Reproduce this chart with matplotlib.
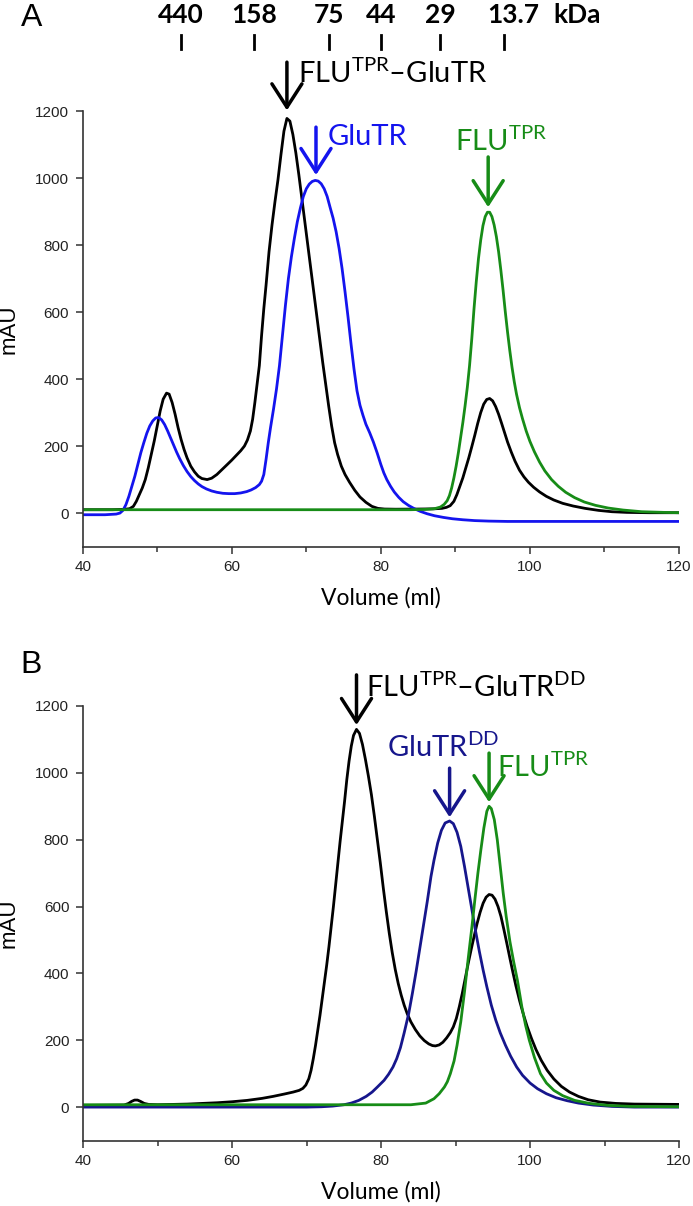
import matplotlib
matplotlib.use('Agg')
import matplotlib.pyplot as plt
from matplotlib.ticker import MultipleLocator

plt.rcParams['mathtext.fontset'] = 'custom'
plt.rcParams['mathtext.rm'] = 'Lato'
plt.rcParams['mathtext.it'] = 'Lato'
plt.rcParams['mathtext.bf'] = 'Lato:bold'

# ---- panel A: FLU-TPR/GluTR complex (black), GluTR (blue), FLU-TPR (green) ----
a_black_x = [40, 44, 45.5, 46.3, 46.8, 47.2, 47.6, 48.0, 48.4, 48.8, 49.2, 49.6, 50.0, 50.4, 50.8,
             51.25, 51.6, 52.0, 52.4, 52.8, 53.2, 53.6, 54.0, 54.5, 55.0, 55.5, 56.0, 56.7, 57.3,
             58.0, 58.7, 59.4, 60.0, 60.6, 61.2, 61.7, 62.1, 62.5, 62.8, 63.1, 63.4, 63.7, 64.0,
             64.3, 64.6, 65.0, 65.4, 65.8, 66.2, 66.6, 67.0, 67.4, 67.8, 68.2, 68.6, 69.0, 69.4,
             69.8, 70.2, 70.6, 71.0, 71.4, 71.8, 72.2, 72.6, 73.0, 73.4, 73.8, 74.2, 74.7, 75.2,
             75.8, 76.5, 77.2, 78.0, 78.8, 79.6, 80.5, 82, 85, 87, 88.2, 88.8, 89.3, 89.8, 90.2,
             90.6, 91.0, 91.4, 91.8, 92.2, 92.6, 93.0, 93.4, 93.8, 94.2, 94.6, 95.0, 95.4, 95.8,
             96.2, 96.6, 97.0, 97.5, 98.0, 98.6, 99.2, 99.8, 100.5, 101.3, 102.2, 103.2, 104.4,
             105.8, 107.4, 109.2, 111, 113, 116, 120]
a_black_y = [10, 10, 11, 13, 20, 35, 55, 75, 100, 135, 175, 215, 260, 305, 340,
             358, 355, 330, 295, 255, 220, 190, 165, 140, 123, 110, 103, 100, 104,
             115, 130, 145, 158, 172, 186, 200, 218, 245, 280, 330, 385, 440, 530,
             610, 680, 780, 860, 930, 995, 1070, 1140, 1178, 1170, 1130, 1075, 1010, 940,
             870, 800, 730, 660, 590, 520, 450, 385, 320, 260, 210, 175, 140, 115,
             92, 68, 48, 32, 20, 14, 12, 11.5, 12, 12.5, 14, 17, 22, 35, 55,
             80, 105, 135, 165, 198, 232, 268, 300, 325, 339, 342, 335, 318, 295,
             268, 240, 212, 182, 155, 128, 108, 92, 77, 63, 50, 39, 29,
             21, 14, 8, 4, 2, 1, 1]

a_blue_x = [40, 43, 44.5, 45.0, 45.4, 45.8, 46.2, 46.6, 47.0, 47.4, 47.8, 48.2, 48.6, 49.0, 49.4,
            49.8, 50.2, 50.6, 51.0, 51.4, 51.8, 52.2, 52.6, 53.0, 53.5, 54.0, 54.5, 55.0, 55.5,
            56.0, 56.6, 57.3, 58.0, 58.8, 59.6, 60.4, 61.2, 62.0, 62.6, 63.2, 63.7, 64.0, 64.3,
            64.6, 64.9, 65.2, 65.6, 66.0, 66.4, 66.8, 67.2, 67.6, 68.0, 68.4, 68.8, 69.2, 69.6,
            70.0, 70.4, 70.8, 71.2, 71.6, 72.0, 72.4, 72.8, 73.2, 73.6, 74.0, 74.4, 74.8, 75.2,
            75.6, 76.0, 76.4, 76.8, 77.2, 77.6, 78.0, 78.5, 79.0, 79.5, 80.0, 80.4, 80.8, 81.3,
            81.8, 82.4, 83.0, 83.7, 84.5, 85.3, 86.2, 87.2, 88.4, 89.6, 91.0, 92.6, 94.5, 97, 120]
a_blue_y = [-5, -5, -3, 0, 8, 25, 50, 80, 110, 145, 180, 210, 238, 260, 275,
            284, 285, 278, 264, 245, 224, 203, 182, 163, 142, 124, 109, 97, 87,
            79, 72, 66, 62, 59, 58, 58, 60, 64, 69, 76, 85, 95, 115,
            160, 210, 255, 310, 370, 440, 530, 620, 700, 765, 820, 870, 910, 945,
            968, 982, 990, 993, 991, 983, 968, 945, 912, 880, 840, 790, 730, 660,
            585, 505, 430, 365, 322, 292, 265, 240, 212, 180, 145, 120, 100, 80,
            63, 47, 34, 23, 13, 5, -2, -8, -13, -17, -20, -22.5, -24, -25, -25]

a_green_x = [40, 84, 86, 87.2, 88.0, 88.5, 88.9, 89.2, 89.5, 89.8, 90.1, 90.4, 90.7, 91.0, 91.3,
             91.6, 91.9, 92.2, 92.5, 92.8, 93.1, 93.4, 93.7, 94.0, 94.3, 94.6, 94.9, 95.2, 95.5,
             95.8, 96.1, 96.4, 96.7, 97.0, 97.3, 97.6, 97.9, 98.2, 98.6, 99.0, 99.5, 100.0, 100.6,
             101.3, 102.0, 102.9, 103.8, 104.8, 106.0, 107.3, 108.8, 110.5, 112.5, 115, 118, 120]
a_green_y = [10, 10, 11, 13, 18, 26, 37, 52, 75, 105, 140, 180, 225, 270, 320,
             375, 440, 520, 610, 690, 760, 815, 858, 885, 898, 898, 885, 860, 825,
             780, 725, 665, 600, 540, 485, 435, 392, 355, 315, 282, 245, 214, 183,
             152, 126, 100, 80, 62, 46, 33, 23, 15, 9, 4, 2, 1]

# ---- panel B: FLU-TPR/GluTR-DD complex (black), GluTR-DD (navy), FLU-TPR (green) ----
b_black_x = [40, 45.5, 46.1, 46.5, 46.9, 47.3, 47.7, 48.2, 48.8, 50, 52, 54, 56, 58, 60, 62, 64,
             65.5, 67, 68.2, 69.0, 69.5, 69.9, 70.3, 70.6, 70.9, 71.2, 71.5, 71.8, 72.1, 72.4,
             72.7, 73.0, 73.3, 73.6, 73.9, 74.2, 74.5, 74.8, 75.1, 75.4, 75.7, 76.0, 76.3, 76.7,
             77.1, 77.5, 77.9, 78.3, 78.7, 79.1, 79.5, 79.9, 80.3, 80.7, 81.1, 81.5, 81.9, 82.3,
             82.7, 83.1, 83.5, 84.0, 84.6, 85.2, 85.8, 86.4, 86.9, 87.3, 87.8, 88.3, 88.8, 89.3,
             89.7, 90.1, 90.5, 90.9, 91.3, 91.7, 92.1, 92.5, 92.9, 93.3, 93.7, 94.1, 94.5, 94.9,
             95.3, 95.7, 96.1, 96.5, 96.9, 97.3, 97.7, 98.1, 98.6, 99.1, 99.6, 100.2, 100.8,
             101.5, 102.3, 103.2, 104.2, 105.3, 106.5, 107.8, 109.4, 111.5, 114, 120]
b_black_y = [5, 6, 11, 17, 21, 21, 17, 11, 8, 7, 8, 9, 11, 13, 16, 20, 26,
             32, 39, 45, 50, 56, 66, 85, 110, 145, 185, 230, 275, 325, 375,
             425, 480, 540, 600, 665, 730, 795, 855, 915, 980, 1035, 1080, 1112, 1130,
             1118, 1085, 1040, 990, 935, 870, 800, 730, 655, 585, 520, 462, 412, 370,
             335, 305, 280, 255, 232, 213, 199, 189, 184, 183, 186, 194, 207, 223,
             240, 265, 300, 340, 385, 430, 472, 512, 550, 583, 610, 628, 636, 634,
             622, 600, 570, 530, 488, 445, 403, 363, 318, 278, 242, 205, 172,
             140, 110, 84, 62, 45, 32, 22, 15, 11, 9, 8]

b_navy_x = [40, 70, 72, 73.5, 75, 76, 77, 78, 78.8, 79.5, 80.4, 81.0, 81.6, 82.1, 82.6, 83.1, 83.7,
            84.2, 84.7, 85.2, 85.7, 86.2, 86.7, 87.1, 87.6, 88.1, 88.6, 89.2, 89.7, 90.2, 90.7,
            91.2, 91.7, 92.2, 92.7, 93.2, 93.7, 94.2, 94.8, 95.4, 96.0, 96.7, 97.4, 98.2, 99.0,
            100, 101, 102.2, 103.5, 105, 106.5, 108.5, 111, 114, 120]
b_navy_y = [0, 0, 1, 3, 7, 12, 20, 32, 45, 60, 80, 98, 120, 145, 178, 222, 279,
            340, 405, 475, 545, 615, 690, 738, 790, 828, 850, 856, 848, 822, 780,
            720, 655, 590, 525, 465, 410, 360, 305, 260, 222, 185, 152, 120, 95,
            72, 55, 40, 28, 19, 12, 6, 2, 0, 0]

b_green_x = [40, 84, 86, 87.1, 87.8, 88.5, 88.9, 89.3, 89.8, 90.2, 90.7, 91.2, 91.7, 92.2, 92.6,
             93.0, 93.4, 93.8, 94.2, 94.5, 94.8, 95.2, 95.6, 96.0, 96.4, 96.8, 97.3, 97.8, 98.3,
             98.9, 99.4, 99.9, 100.6, 101.4, 102.2, 103.2, 104.4, 106, 108, 110.5, 113.5, 120]
b_green_y = [7, 7, 12, 25, 40, 60, 76, 100, 138, 185, 255, 345, 445, 540, 622,
             700, 770, 835, 885, 900, 893, 860, 800, 720, 640, 570, 495, 435, 380,
             300, 245, 200, 148, 100, 72, 50, 34, 20, 11, 5, 2, 1]

# size-exclusion calibration markers
marker_labels = ['440', '158', '75', '44', '29', '13.7']
marker_vol = [53.2, 63.0, 73.1, 80.0, 88.0, 96.5]
marker_text_vol = [53.2, 63.0, 73.1, 80.0, 88.0, 97.7]

c_black = 'black'
c_blue = '#1414ee'
c_green = '#178c17'
c_navy = '#16168c'

tick_font = 'Liberation Sans'
lab_font = 'Lato'
lab_size = 21

fig = plt.figure(figsize=(6.93, 12.06), dpi=100)
ax_a = fig.add_axes([0.1193, 0.5468, 0.8605, 0.3611])
ax_b = fig.add_axes([0.1200, 0.0543, 0.8598, 0.3603])


def style_axis(ax):
    ax.set_xlim(40, 120)
    ax.set_ylim(-100, 1200)
    ax.spines['top'].set_visible(False)
    ax.spines['right'].set_visible(False)
    for s in ['left', 'bottom']:
        ax.spines[s].set_linewidth(1.2)
        ax.spines[s].set_color('#333333')
    ax.xaxis.set_major_locator(MultipleLocator(20))
    ax.xaxis.set_minor_locator(MultipleLocator(10))
    ax.yaxis.set_major_locator(MultipleLocator(200))
    ax.tick_params(which='major', length=5, width=1.1, color='#333333', pad=5)
    ax.tick_params(which='minor', length=3.5, width=1.1, color='#333333')
    for lab in ax.get_xticklabels() + ax.get_yticklabels():
        lab.set_family(tick_font)
        lab.set_fontsize(11)
        lab.set_color('#222222')
    ax.set_xlabel('Volume (ml)', family=lab_font, fontsize=16.5, labelpad=9)
    ax.set_ylabel('mAU', family='Liberation Sans', fontsize=16)
    ax.yaxis.set_label_coords(-0.106, 0.5)


def arrow(ax, x, y0, y1, color):
    ax.annotate('', xy=(x, y1), xytext=(x, y0), annotation_clip=False,
                arrowprops=dict(arrowstyle='->,head_length=0.7,head_width=0.45',
                                mutation_scale=24, lw=2.5, color=color,
                                shrinkA=0, shrinkB=0))


# panel A
ax_a.plot(a_black_x, a_black_y, color=c_black, lw=2.0)
ax_a.plot(a_blue_x, a_blue_y, color=c_blue, lw=2.0)
ax_a.plot(a_green_x, a_green_y, color=c_green, lw=2.0)
style_axis(ax_a)

for v in marker_vol:
    ax_a.plot([v, v], [1385, 1427], color='black', lw=2.0, clip_on=False)
for v, t in zip(marker_text_vol, marker_labels):
    ax_a.text(v, 1487, t, ha='center', va='center', family=lab_font,
              fontweight='bold', fontsize=19, clip_on=False)
ax_a.text(106.3, 1487, 'kDa', ha='center', va='center', family=lab_font,
          fontweight='bold', fontsize=19, clip_on=False)

arrow(ax_a, 67.4, 1346, 1202, c_black)
ax_a.text(68.9, 1283, r'FLU$^{\mathregular{TPR}}$–GluTR', family=lab_font, fontsize=lab_size,
          ha='left', va='baseline', color=c_black, clip_on=False)
arrow(ax_a, 71.3, 1152, 1009, c_blue)
ax_a.text(72.9, 1098, 'GluTR', family=lab_font, fontsize=lab_size,
          ha='left', va='baseline', color=c_blue, clip_on=False)
arrow(ax_a, 94.4, 1063, 913, c_green)
ax_a.text(89.9, 1080, r'FLU$^{\mathregular{TPR}}$', family=lab_font, fontsize=lab_size,
          ha='left', va='baseline', color=c_green, clip_on=False)

fig.text(0.045, 0.985, 'A', family='Liberation Sans', fontsize=23, ha='center', va='center')

# panel B
ax_b.plot(b_black_x, b_black_y, color=c_black, lw=2.0)
ax_b.plot(b_navy_x, b_navy_y, color=c_navy, lw=2.0)
ax_b.plot(b_green_x, b_green_y, color=c_green, lw=2.0)
style_axis(ax_b)

arrow(ax_b, 76.7, 1293, 1143, c_black)
ax_b.text(78.0, 1227, r'FLU$^{\mathregular{TPR}}$–GluTR$^{\mathregular{DD}}$', family=lab_font,
          fontsize=lab_size, ha='left', va='baseline', color=c_black, clip_on=False)
arrow(ax_b, 89.2, 1014, 867, c_navy)
ax_b.text(80.8, 1047, r'GluTR$^{\mathregular{DD}}$', family=lab_font, fontsize=lab_size,
          ha='left', va='baseline', color=c_navy, clip_on=False)
arrow(ax_b, 94.5, 1059, 912, c_green)
ax_b.text(95.6, 987, r'FLU$^{\mathregular{TPR}}$', family=lab_font, fontsize=lab_size,
          ha='left', va='baseline', color=c_green, clip_on=False)

fig.text(0.045, 0.4485, 'B', family='Liberation Sans', fontsize=23, ha='center', va='center')

fig.savefig('out.png', dpi=100)
